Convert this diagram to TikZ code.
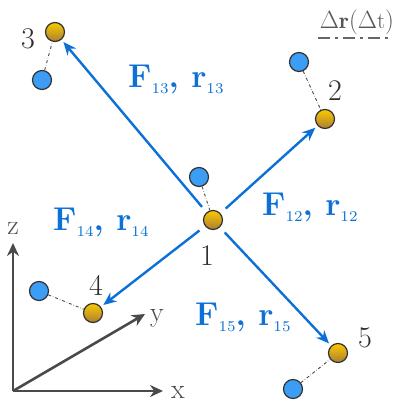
\documentclass[tikz,border=0pt]{standalone}
\usepackage{fontspec}
\newfontfamily\subfont{lmroman7-regular.otf}
\usetikzlibrary{arrows.meta}
\definecolor{fblue}{RGB}{12,112,214}
\definecolor{ballblue}{RGB}{60,157,245}
\definecolor{goldtop}{RGB}{250,202,0}
\definecolor{goldbot}{RGB}{172,126,50}
\definecolor{axgray}{RGB}{74,74,74}
\definecolor{txtgray}{RGB}{45,45,45}
\newcommand\flabel[1]{\fontsize{33}{33}\selectfont\bfseries F\raisebox{-6pt}{\fontsize{15}{15}\subfont #1}, r\raisebox{-6pt}{\fontsize{15}{15}\subfont #1}}
\begin{document}
\begin{tikzpicture}[x=1pt,y=-1pt,
 ball/.style={circle,draw=black!80,line width=1.2pt,minimum size=19pt,inner sep=0pt},
 heavy/.style={ball,top color=goldtop,bottom color=goldbot},
 light/.style={ball,fill=ballblue},
 link/.style={dash dot,draw=gray!60!black,line width=0.9pt},
 force/.style={draw=fblue,line width=2.4pt,-{Stealth[length=13pt,width=11pt]},shorten <=7pt,shorten >=3pt},
 num/.style={font=\fontsize{30}{30}\selectfont,text=txtgray,inner sep=0pt,anchor=base},
 flab/.style={text=fblue,inner sep=0pt,anchor=base west},
 axis/.style={draw=axgray,line width=2.6pt,-{Stealth[length=13pt,width=12pt]}},
 axlab/.style={font=\fontsize{28}{28}\selectfont,text=axgray,inner sep=0pt},
 legendline/.style={draw=gray!80!black,line width=2.6pt,dash pattern=on 12pt off 5pt on 3pt off 5pt}
]
\useasboundingbox (0,0) rectangle (398,407);

% particles
\node[heavy] (o1) at (213,220) {};
\node[light] (b1) at (199,177) {};
\node[heavy] (o2) at (325,119) {};
\node[light] (b2) at (299,62) {};
\node[heavy] (o3) at (55,32) {};
\node[light] (b3) at (42,80) {};
\node[heavy] (o4) at (93,313) {};
\node[light] (b4) at (39,291) {};
\node[heavy] (o5) at (338,353) {};
\node[light] (b5) at (293,389) {};

% displacement links
\draw[link] (b1) -- (o1);
\draw[link] (b2) -- (o2);
\draw[link] (b3) -- (o3);
\draw[link] (b4) -- (o4);
\draw[link] (b5) -- (o5);

% numbers
\node[num] (n1) at (207,265) {1};
\node[num] (n2) at (335,100) {2};
\node[num] (n3) at (28,48) {3};
\node[num] (n4) at (96,295) {4};
\node[num] (n5) at (365,347) {5};

% forces
\draw[force] (o1) -- (o3);
\draw[force] (o1) -- (o2);
\draw[force] (o1) -- (o4);
\draw[force] (o1) -- (o5);

\node[flab] (f13) at (128,87) {\flabel{13}};
\node[flab] (f12) at (262,215) {\flabel{12}};
\node[flab] (f14) at (53,230) {\flabel{14}};
\node[flab] (f15) at (195,325) {\flabel{15}};

% axes
\coordinate (O) at (13,391);
\coordinate (Z) at (13,243);
\coordinate (X) at (163,391);
\coordinate (Y) at (145,314);
\draw[axis] (O) -- (Z);
\draw[axis] (O) -- (X);
\draw[axis] (O) -- (Y);
\node[axlab] (zl) at (13,228) {z};
\node[axlab] (xl) at (178,392) {x};
\node[axlab] (yl) at (157,318) {y};

% legend
\node[text=txtgray!80,inner sep=0pt,anchor=base,font=\fontsize{23}{23}\selectfont] (leg) at (357,28) {$\Delta\mathbf{r}(\Delta\mathrm{t})$};
\coordinate (la) at (318,38);
\coordinate (lb) at (392,38);
\draw[legendline] (la) -- (lb);
\end{tikzpicture}
\end{document}
